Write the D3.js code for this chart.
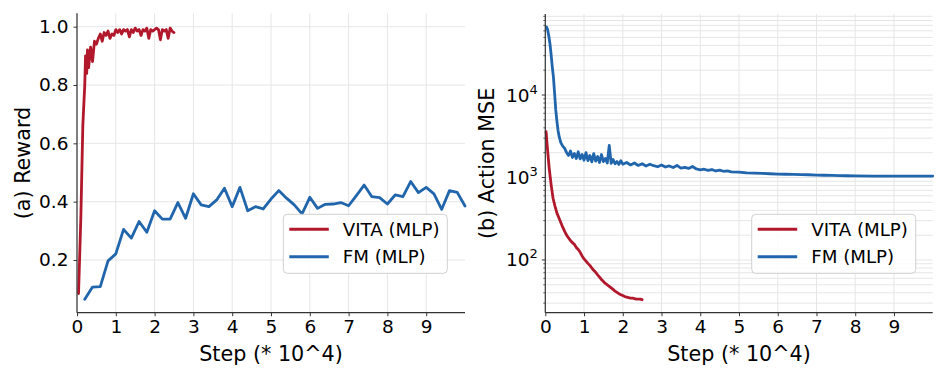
<!DOCTYPE html>
<html>
<head>
<meta charset="utf-8">
<script src="https://cdn.jsdelivr.net/npm/d3@7"></script>
<style>
html,body{margin:0;padding:0;background:#fff;}
svg{display:block;font-family:"DejaVu Sans",sans-serif;}
</style>
</head>
<body>
<svg id="chart" width="947" height="379"></svg>
<script>
// ---------- data ----------
const xTicks = [0,1,2,3,4,5,6,7,8,9];
const rewardTicks = [0.2,0.4,0.6,0.8,1.0];
const mseMajorTicks = [100,1000,10000];
const seriesNames = ["VITA (MLP)","FM (MLP)"];

const vitaRewardX = [0.04,0.1,0.15,0.2,0.22,0.25,0.27,0.3,0.35,0.4,0.45,0.5,0.55,0.6,0.65,0.7,0.75,0.8,0.85,0.9,0.95,1.0,1.05,1.1,1.15,1.2,1.25,1.3,1.35,1.4,1.45,1.5,1.55,1.6,1.65,1.7,1.75,1.8,1.85,1.9,1.95,2.0,2.05,2.1,2.15,2.2,2.25,2.3,2.35,2.4,2.45,2.5];
const vitaReward = [0.085,0.35,0.66,0.80,0.90,0.84,0.92,0.86,0.93,0.88,0.95,0.94,0.96,0.975,0.95,0.98,0.97,0.985,0.96,0.975,0.97,0.99,0.98,0.99,0.975,0.99,0.985,0.99,0.965,0.99,0.98,0.995,0.985,0.99,0.97,0.99,0.985,0.995,0.96,0.99,0.985,0.99,0.995,0.99,0.955,0.99,0.985,0.99,0.96,0.995,0.985,0.98];

const fmRewardX = [0.2,0.4,0.6,0.8,1.0,1.2,1.4,1.6,1.8,2.0,2.2,2.4,2.6,2.8,3.0,3.2,3.4,3.6,3.8,4.0,4.2,4.4,4.6,4.8,5.0,5.2,5.4,5.6,5.8,6.0,6.2,6.4,6.6,6.8,7.0,7.2,7.4,7.6,7.8,8.0,8.2,8.4,8.6,8.8,9.0,9.2,9.4,9.6,9.8,10.0];
const fmReward = [0.065,0.107,0.109,0.197,0.221,0.305,0.275,0.332,0.295,0.369,0.340,0.340,0.397,0.343,0.427,0.389,0.383,0.406,0.446,0.383,0.449,0.369,0.383,0.375,0.409,0.438,0.412,0.389,0.358,0.415,0.377,0.391,0.392,0.397,0.386,0.421,0.457,0.417,0.414,0.392,0.423,0.417,0.469,0.431,0.449,0.427,0.374,0.438,0.432,0.385];

const vitaMseX = [0.02,0.05,0.1,0.15,0.2,0.25,0.3,0.35,0.4,0.45,0.5,0.55,0.6,0.65,0.7,0.75,0.8,0.85,0.9,0.95,1.0,1.05,1.1,1.15,1.2,1.25,1.3,1.35,1.4,1.45,1.5,1.55,1.6,1.65,1.7,1.75,1.8,1.85,1.9,1.95,2.0,2.05,2.1,2.15,2.2,2.25,2.3,2.35,2.4,2.45,2.5];
const vitaMse = [3600,2400,1300,820,560,450,370,325,285,250,222,200,185,172,162,155,142,134,124,112,103,97,91,86,80,75,71,66,62,58,55,52,50,48,46,44,42,40.5,39,38,37,36,35.5,35,34.5,34.5,34,33.5,33.5,33.5,33];

const fmMseX = [0.03,0.06,0.09,0.12,0.15,0.18,0.21,0.24,0.27,0.30,0.33,0.36,0.40,0.45,0.50,0.55,0.60,0.65,0.70,0.75,0.80,0.85,0.90,0.95,1.00,1.05,1.10,1.15,1.20,1.25,1.30,1.35,1.40,1.45,1.50,1.55,1.60,1.65,1.70,1.75,1.80,1.85,1.90,1.95,2.00,2.1,2.2,2.3,2.4,2.5,2.6,2.7,2.8,2.9,3.0,3.1,3.2,3.3,3.4,3.5,3.6,3.7,3.8,3.9,4.0,4.1,4.2,4.3,4.4,4.5,4.6,4.7,4.8,5.0,5.2,5.4,5.6,5.8,6.0,6.2,6.4,6.6,6.8,7.0,7.2,7.4,7.6,7.8,8.0,8.5,9.0,9.5,10.0];
const fmMse = [67000,62000,52000,42000,31000,22000,16500,10500,6600,4800,3700,3100,2650,2400,2250,2000,1850,2100,1750,1950,1700,2050,1680,1900,1620,2000,1600,1850,1550,1950,1580,1800,1520,1900,1560,1700,1500,2450,1480,1650,1470,1560,1440,1600,1450,1520,1420,1500,1400,1470,1380,1450,1390,1350,1420,1340,1380,1320,1400,1300,1330,1290,1360,1270,1240,1260,1220,1250,1200,1230,1190,1200,1170,1160,1140,1130,1120,1110,1100,1095,1090,1085,1080,1070,1065,1060,1055,1050,1045,1042,1040,1038,1040];

const colors = {vita:"#b2182b", fm:"#2166ac"};

// ---------- layout ----------
const svg = d3.select("#chart");
const panels = [
  {x0:77, x1:465, y0:13.3, y1:312.7, label:"(a) Reward", labelX:30, legendX:283.3},
  {x0:545.3, x1:932.7, y0:14, y1:312.7, label:"(b) Action MSE", labelX:494, legendX:751.7}
];
const gridColor = "#e6e6e6";
const axisColor = "#333";
const tickFont = 18.5;

function drawXAxis(p, x){
  svg.append("g").selectAll("line").data(xTicks).join("line")
    .attr("x1",d=>x(d)).attr("x2",d=>x(d)).attr("y1",p.y0).attr("y2",p.y1)
    .attr("stroke",gridColor).attr("stroke-width",1);
  const g = svg.append("g").attr("transform",`translate(0,${p.y1})`);
  const ax = d3.axisBottom(x).tickValues(xTicks).tickFormat(d3.format("d")).tickSize(3.5).tickPadding(4);
  g.call(ax);
  g.select(".domain").remove();
  g.selectAll(".tick line").attr("stroke",axisColor);
  g.selectAll(".tick text").attr("font-size",tickFont).attr("font-family","DejaVu Sans").attr("fill","#000");
  svg.append("text").attr("x",(p.x0+p.x1)/2).attr("y",361).attr("text-anchor","middle")
    .attr("font-size",20.7).attr("fill","#000").text("Step (* 10^4)");
}

function drawSpines(p){
  svg.append("line").attr("x1",p.x0).attr("x2",p.x0).attr("y1",p.y0).attr("y2",p.y1)
    .attr("stroke",axisColor).attr("stroke-width",1.2);
  svg.append("line").attr("x1",p.x0).attr("x2",p.x1).attr("y1",p.y1).attr("y2",p.y1)
    .attr("stroke",axisColor).attr("stroke-width",1.2);
}

function drawYLabel(p){
  svg.append("text").attr("transform",`translate(${p.labelX},${(p.y0+p.y1)/2}) rotate(-90)`)
    .attr("text-anchor","middle").attr("font-size",20.7).attr("fill","#000").text(p.label);
}

function drawLegend(p){
  const lg = svg.append("g").attr("transform",`translate(${p.legendX},214.3)`);
  lg.append("rect").attr("width",164).attr("height",59).attr("rx",4).attr("ry",4)
    .attr("fill","#fff").attr("fill-opacity",0.85).attr("stroke","#d0d0d0").attr("stroke-width",1);
  const items = [{name:seriesNames[0],c:colors.vita,y:15},{name:seriesNames[1],c:colors.fm,y:42.4}];
  items.forEach(it=>{
    lg.append("line").attr("x1",6).attr("x2",45.5).attr("y1",it.y).attr("y2",it.y)
      .attr("stroke",it.c).attr("stroke-width",3);
    lg.append("text").attr("x",59.5).attr("y",it.y+6.5).attr("font-size",18.2).attr("fill","#000").text(it.name);
  });
}

function drawLine(xs, ys, x, y, color){
  const pts = xs.map((d,i)=>[d, ys[i]]);
  svg.append("path").datum(pts)
    .attr("d", d3.line().x(d=>x(d[0])).y(d=>y(d[1])))
    .attr("fill","none").attr("stroke",color).attr("stroke-width",2.8)
    .attr("stroke-linejoin","round").attr("stroke-linecap","round");
}

// ---------- panel (a) ----------
{
  const p = panels[0];
  const x = d3.scaleLinear().domain([0,10]).range([p.x0,p.x1]);
  const y = d3.scaleLinear().domain([0.0193,1.0459]).range([p.y1,p.y0]);
  svg.append("g").selectAll("line").data(rewardTicks).join("line")
    .attr("x1",p.x0).attr("x2",p.x1).attr("y1",d=>y(d)).attr("y2",d=>y(d))
    .attr("stroke",gridColor).attr("stroke-width",1);
  drawXAxis(p,x);
  const g = svg.append("g").attr("transform",`translate(${p.x0},0)`);
  g.call(d3.axisLeft(y).tickValues(rewardTicks).tickFormat(d3.format(".1f")).tickSize(3.5).tickPadding(5));
  g.select(".domain").remove();
  g.selectAll(".tick line").attr("stroke",axisColor);
  g.selectAll(".tick text").attr("font-size",tickFont).attr("font-family","DejaVu Sans").attr("fill","#000");
  drawLine(fmRewardX, fmReward, x, y, colors.fm);
  drawLine(vitaRewardX, vitaReward, x, y, colors.vita);
  drawSpines(p);
  drawYLabel(p);
  drawLegend(p);
}

// ---------- panel (b) ----------
{
  const p = panels[1];
  const x = d3.scaleLinear().domain([0,10]).range([p.x0,p.x1]);
  const y = d3.scaleLog().domain([22.96, 96000]).range([p.y1,p.y0]);
  const all = y.ticks().filter(d=>d>=y.domain()[0] && d<=y.domain()[1]);
  const minor = all.filter(d=>!mseMajorTicks.includes(d));
  svg.append("g").selectAll("line").data(all).join("line")
    .attr("x1",p.x0).attr("x2",p.x1).attr("y1",d=>y(d)).attr("y2",d=>y(d))
    .attr("stroke",gridColor).attr("stroke-width",1);
  drawXAxis(p,x);
  svg.append("g").selectAll("line").data(minor).join("line")
    .attr("x1",p.x0-2).attr("x2",p.x0).attr("y1",d=>y(d)).attr("y2",d=>y(d))
    .attr("stroke",axisColor).attr("stroke-width",0.8);
  svg.append("g").selectAll("line").data(mseMajorTicks).join("line")
    .attr("x1",p.x0-3.5).attr("x2",p.x0).attr("y1",d=>y(d)).attr("y2",d=>y(d))
    .attr("stroke",axisColor).attr("stroke-width",1);
  const lbl = svg.append("g").selectAll("text").data(mseMajorTicks).join("text")
    .attr("x",p.x0-7.5).attr("y",d=>y(d)+6.5).attr("text-anchor","end")
    .attr("font-size",tickFont).attr("fill","#000");
  lbl.append("tspan").text("10");
  lbl.append("tspan").attr("dy",-8).attr("font-size",13).text(d=>Math.round(Math.log10(d)));
  drawLine(fmMseX, fmMse, x, y, colors.fm);
  drawLine(vitaMseX, vitaMse, x, y, colors.vita);
  drawSpines(p);
  drawYLabel(p);
  drawLegend(p);
}
</script>
</body>
</html>
